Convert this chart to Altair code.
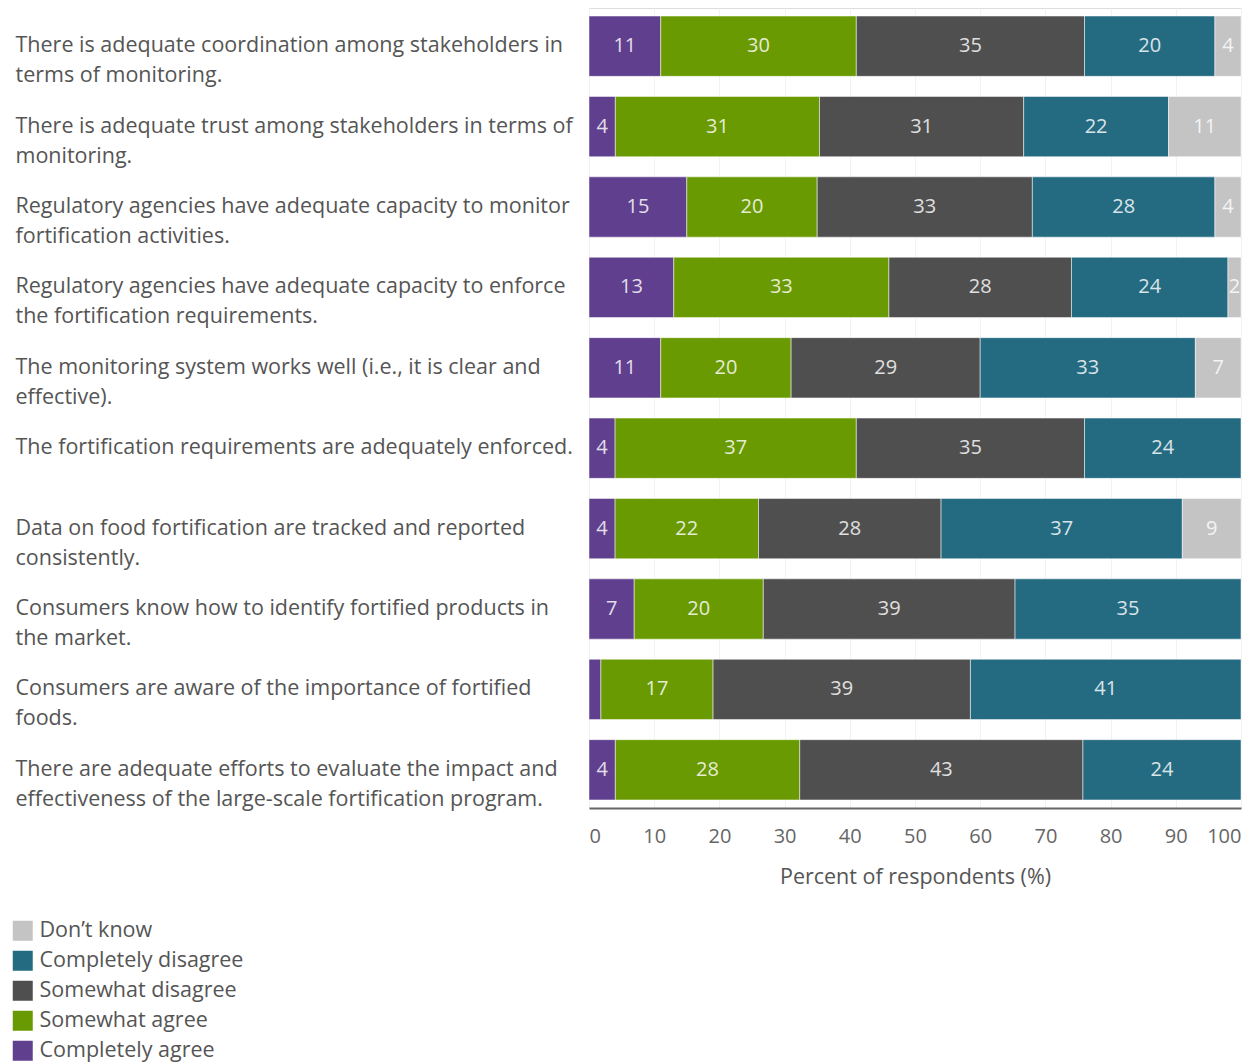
import altair as alt
import pandas as pd

statements = [
    "There is adequate coordination among stakeholders in\nterms of monitoring.",
    "There is adequate trust among stakeholders in terms of\nmonitoring.",
    "Regulatory agencies have adequate capacity to monitor\nfortification activities.",
    "Regulatory agencies have adequate capacity to enforce\nthe fortification requirements.",
    "The monitoring system works well (i.e., it is clear and\neffective).",
    "The fortification requirements are adequately enforced.",
    "Data on food fortification are tracked and reported\nconsistently.",
    "Consumers know how to identify fortified products in\nthe market.",
    "Consumers are aware of the importance of fortified\nfoods.",
    "There are adequate efforts to evaluate the impact and\neffectiveness of the large-scale fortification program.",
]

responses = ["Completely agree", "Somewhat agree", "Somewhat disagree",
             "Completely disagree", "Don\u2019t know"]
colors = ["#5f3f8e", "#6a9a02", "#4f4f4f", "#246b82", "#c4c4c4"]

completely_agree = [11, 4, 15, 13, 11, 4, 4, 7, 1.8, 4]
somewhat_agree = [30, 31, 20, 33, 20, 37, 22, 20, 17, 28]
somewhat_disagree = [35, 31, 33, 28, 29, 35, 28, 39, 39, 43]
completely_disagree = [20, 22, 28, 24, 33, 24, 37, 35, 41, 24]
dont_know = [4, 11, 4, 2, 7, 0, 9, 0, 0, 0]

series = [completely_agree, somewhat_agree, somewhat_disagree,
          completely_disagree, dont_know]

rows = []
for r_i, (resp, vals) in enumerate(zip(responses, series)):
    for s, v in zip(statements, vals):
        if v > 0:
            rows.append({"statement": s, "response": resp, "value": v, "order": r_i})
df = pd.DataFrame(rows)

FONT = "Open Sans"
TXT = "#555555"

base = alt.Chart(df).transform_stack(
    stack="value",
    groupby=["statement"],
    sort=[alt.SortField("order", order="ascending")],
    as_=["x0", "x1"],
    offset="normalize",
).transform_calculate(
    mid="(datum.x0 + datum.x1) / 2"
)

y_enc = alt.Y(
    "statement:N",
    sort=statements,
    title=None,
    scale=alt.Scale(paddingInner=0.25, paddingOuter=0.1),
    axis=alt.Axis(
        labelAlign="left",
        labelPadding=574,
        labelLimit=620,
        labelFontSize=21.5,
        labelFont=FONT,
        labelColor=TXT,
        labelLineHeight=30,
        labelExpr="split(datum.label, '\\n')",
        ticks=False,
        domain=False,
        grid=False,
    ),
)

x_enc = alt.X(
    "x0:Q",
    scale=alt.Scale(domain=[0, 1], nice=False),
    title="Percent of respondents (%)",
    axis=alt.Axis(
        values=[0, 0.1, 0.2, 0.3, 0.4, 0.5, 0.6, 0.7, 0.8, 0.9, 1.0],
        labelExpr="format(datum.value * 100, '.0f')",
        labelFontSize=20,
        labelFont=FONT,
        labelColor="#666666",
        labelFlush=True,
        labelPadding=18,
        titleFontSize=21.5,
        titleFont=FONT,
        titleColor=TXT,
        titleFontWeight="normal",
        titlePadding=20,
        ticks=False,
        domainColor="#666666",
        domainWidth=2,
        gridColor="#f2f2f2",
        gridWidth=1,
    ),
)

bars = base.mark_bar(stroke="white", strokeWidth=0.5).encode(
    y=y_enc,
    x=x_enc,
    x2="x1:Q",
    color=alt.Color(
        "response:N",
        scale=alt.Scale(domain=responses, range=colors),
        legend=alt.Legend(
            title=None,
            orient="none",
            legendX=-577,
            legendY=912,
            direction="vertical",
            symbolType="square",
            symbolSize=400,
            symbolStrokeWidth=0,
            labelFontSize=21.5,
            labelFont=FONT,
            labelColor=TXT,
            labelLimit=400,
            rowPadding=7,
            labelOffset=6,
            values=responses[::-1],
        ),
    ),
)

labels = base.transform_filter(
    "datum.value >= 2"
).mark_text(
    color="white", opacity=0.82, fontSize=20, font=FONT, baseline="middle"
).encode(
    y=alt.Y("statement:N", sort=statements),
    x=alt.X("mid:Q"),
    text=alt.Text("value:Q", format=".0f"),
)

chart = alt.layer(bars, labels).properties(
    width=652, height=800, padding={"left": 4, "top": 0, "right": 4, "bottom": 0}
).configure_view(stroke=None).configure(background="white")

chart.save("out.html", embed_options={"renderer": "svg", "actions": False})
